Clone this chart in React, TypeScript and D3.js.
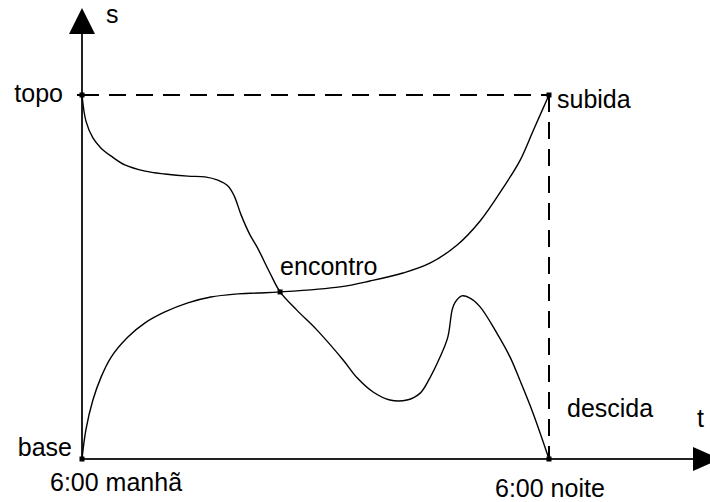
import React from "react";
import * as d3 from "d3";

// Time of day (hours) and altitude (% of the trail) for the climb and the descent
const subidaT = [6, 6.1, 6.28, 6.49, 6.75, 7.18, 7.62, 8.13, 8.72, 9.31, 9.93, 10.52, 11.09, 12.63, 13.4, 14.25, 14.94, 15.64, 16.23, 16.82, 17.25, 17.59, 17.85, 18];
const subidaS = [0, 8, 16.2, 22.5, 28, 33.5, 37.4, 40.4, 42.9, 44.5, 45.3, 45.6, 45.9, 47.3, 48.9, 51.1, 53.8, 58.8, 65.4, 74.5, 81.9, 90.1, 96.4, 100];

const descidaT = [6, 6.1, 6.28, 6.49, 6.75, 7.1, 7.62, 8.13, 8.72, 9.16, 9.49, 9.75, 9.91, 10.09, 10.32, 10.5, 10.83, 11.09, 11.52, 12.04, 12.71, 13.07, 13.48, 13.91, 14.35, 14.69, 14.94, 15.2, 15.4, 15.51, 15.58, 15.76, 15.97, 16.23, 16.66, 17.0, 17.25, 17.59, 18];
const descidaS = [100, 92.9, 88.2, 85.4, 83.2, 80.8, 79.1, 78.3, 77.7, 77.5, 76.6, 75.0, 72.3, 67.0, 61.5, 58.2, 51.1, 45.9, 40.9, 35.4, 27.2, 22.3, 18.4, 16.2, 16.2, 18.1, 22.3, 28.0, 33.5, 40.9, 42.9, 44.8, 44.2, 41.8, 34.6, 28.0, 21.7, 12.6, 0];

// Meeting point of both paths
const encontro = { t: 11.09, s: 45.9 };

const timeTicks = [6, 18];
const timeLabels = ["6:00 manhã", "6:00 noite"];
const altTicks = [0, 100];
const altLabels = ["base", "topo"];

const W = 710;
const H = 502;

export default function App() {
  const x = d3.scaleLinear().domain([6, 18]).range([82, 549]);
  const y = d3.scaleLinear().domain([0, 100]).range([459, 95]);

  const line = d3
    .line<[number, number]>()
    .x((d) => x(d[0]))
    .y((d) => y(d[1]))
    .curve(d3.curveCatmullRom.alpha(0.5));

  const subida = subidaT.map((t, i) => [t, subidaS[i]] as [number, number]);
  const descida = descidaT.map((t, i) => [t, descidaS[i]] as [number, number]);

  const x0 = x(6);
  const y0 = y(0);
  const font = "Arial, 'Liberation Sans', sans-serif";
  const fs = 25;

  const corners: [number, number][] = [
    [6, 0],
    [6, 100],
    [18, 0],
    [18, 100],
  ];

  return (
    <svg
      width={W}
      height={H}
      style={{ position: "absolute", left: 0, top: 0, background: "#fff" }}
      fontFamily={font}
      fontSize={fs}
    >
      {/* reference lines: top altitude and end of day */}
      <line x1={x0} y1={y(100)} x2={x(18)} y2={y(100)} stroke="#000" strokeWidth={2} strokeDasharray="17,10" />
      <line x1={x(18)} y1={y(100)} x2={x(18)} y2={y0} stroke="#000" strokeWidth={2} strokeDasharray="17,10" />

      {/* axes */}
      <line x1={x0} y1={y0} x2={x0} y2={30} stroke="#222" strokeWidth={2} />
      <line x1={x0} y1={y0} x2={695} y2={y0} stroke="#222" strokeWidth={2} />
      <path d={`M${x0},8 L${x0 + 13},34 L${x0 - 13},34 Z`} fill="#000" />
      <path d={`M720,${y0} L693,${y0 - 12} L693,${y0 + 12} Z`} fill="#000" />

      {/* paths */}
      <path d={line(descida) ?? ""} fill="none" stroke="#000" strokeWidth={1.4} />
      <path d={line(subida) ?? ""} fill="none" stroke="#000" strokeWidth={1.4} />

      {/* markers */}
      {corners.map(([t, s], i) => (
        <rect key={i} x={x(t) - 2.5} y={y(s) - 2.5} width={5} height={5} fill="#000" />
      ))}
      <line x1={x0 - 5} y1={y(100)} x2={x0 + 5} y2={y(100)} stroke="#000" strokeWidth={2} />
      <rect x={x(encontro.t) - 2.5} y={y(encontro.s) - 2.5} width={5} height={5} fill="#000" />

      {/* labels */}
      <text x={106} y={23}>s</text>
      <text x={697} y={427}>t</text>
      <text x={63} y={y(altTicks[1]) + 7} textAnchor="end">{altLabels[1]}</text>
      <text x={72} y={y(altTicks[0]) - 3} textAnchor="end">{altLabels[0]}</text>
      <text x={x(timeTicks[0]) - 32} y={491}>{timeLabels[0]}</text>
      <text x={x(timeTicks[1]) - 54} y={497}>{timeLabels[1]}</text>
      <text x={x(18) + 8} y={y(100) + 13}>subida</text>
      <text x={x(18) + 18} y={417}>descida</text>
      <text x={x(encontro.t)} y={y(encontro.s) - 17}>encontro</text>
    </svg>
  );
}
